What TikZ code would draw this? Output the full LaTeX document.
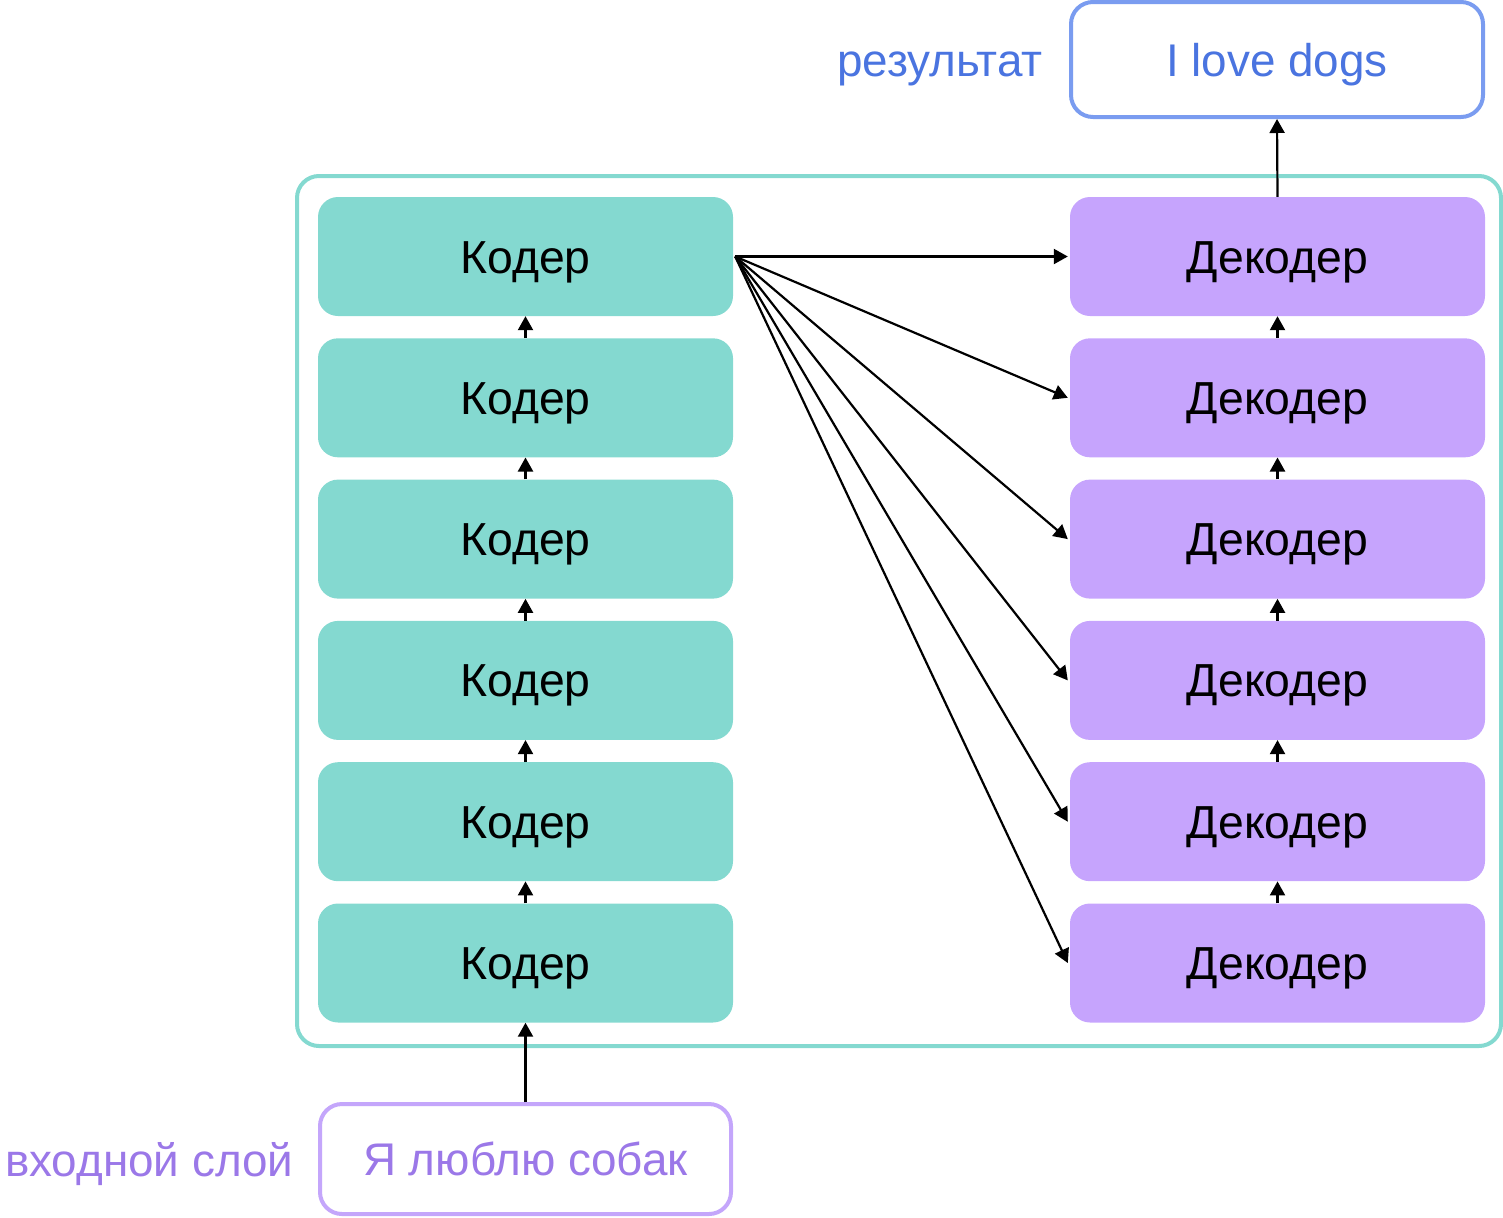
\documentclass[tikz,border=0pt]{standalone}
\usepackage{fontspec}
\setmainfont{Liberation Sans}
\usetikzlibrary{arrows.meta}
\definecolor{enc}{HTML}{84D9D0}
\definecolor{dec}{HTML}{C6A4FD}
\definecolor{outb}{HTML}{7A9CF0}
\definecolor{outt}{HTML}{4A74E0}
\definecolor{inb}{HTML}{C4A6FB}
\definecolor{intx}{HTML}{9B78E8}
\tikzset{
  captext/.style={text height=33bp, text depth=0pt},
  layer/.style={rounded corners=20bp, minimum width=415bp, minimum height=119bp, inner sep=0pt, font=\fontsize{46.5}{52}\selectfont, captext, text=black},
  encbox/.style={layer, fill=enc},
  decbox/.style={layer, fill=dec},
  iobox/.style={draw, line width=4bp, rounded corners=22bp, fill=white, inner sep=0pt, font=\fontsize{46}{52}\selectfont, captext},
  conn/.style={line width=2.2bp, -{Triangle[length=14bp,width=15bp]}},
  lbl/.style={inner sep=0pt, font=\fontsize{46}{52}\selectfont, captext}
}
\begin{document}
\begin{tikzpicture}[x=1bp,y=-1bp]
\useasboundingbox (0,0) rectangle (1503,1217);
\draw[enc, line width=4bp, rounded corners=22bp] (297,176) rectangle (1501,1046);
\foreach \i/\yy in {1/256.5,2/397.8,3/539.1,4/680.4,5/821.7,6/963.0}{
  \node[encbox] (e\i) at (525.5,\yy) {Кодер};
  \node[decbox] (d\i) at (1277.5,\yy) {Декодер};
}
\node[iobox, draw=outb, text=outt, minimum width=412bp, minimum height=115bp] (out) at (1277,59.5) {I love dogs};
\node[iobox, draw=inb, text=intx, minimum width=411bp, minimum height=110bp] (in) at (525.5,1159) {Я люблю собак};
\node[lbl, text=outt, anchor=east] (res) at (1043,60) {результат};
\node[lbl, text=intx, anchor=west] (inl) at (5,1160) {входной слой};
\foreach \a/\b in {2/1,3/2,4/3,5/4,6/5}{
  \draw[conn] (e\a.north) -- (e\b.south);
  \draw[conn] (d\a.north) -- (d\b.south);
}
\draw[conn] (in.north) -- (e6.south);
\draw[conn] (d1.north) -- (out.south);
\coordinate (src) at ([xshift=2bp]e1.east);
\foreach \i in {1,...,6}{
  \draw[conn] (src) -- ([xshift=-2bp]d\i.west);
}
\end{tikzpicture}
\end{document}
